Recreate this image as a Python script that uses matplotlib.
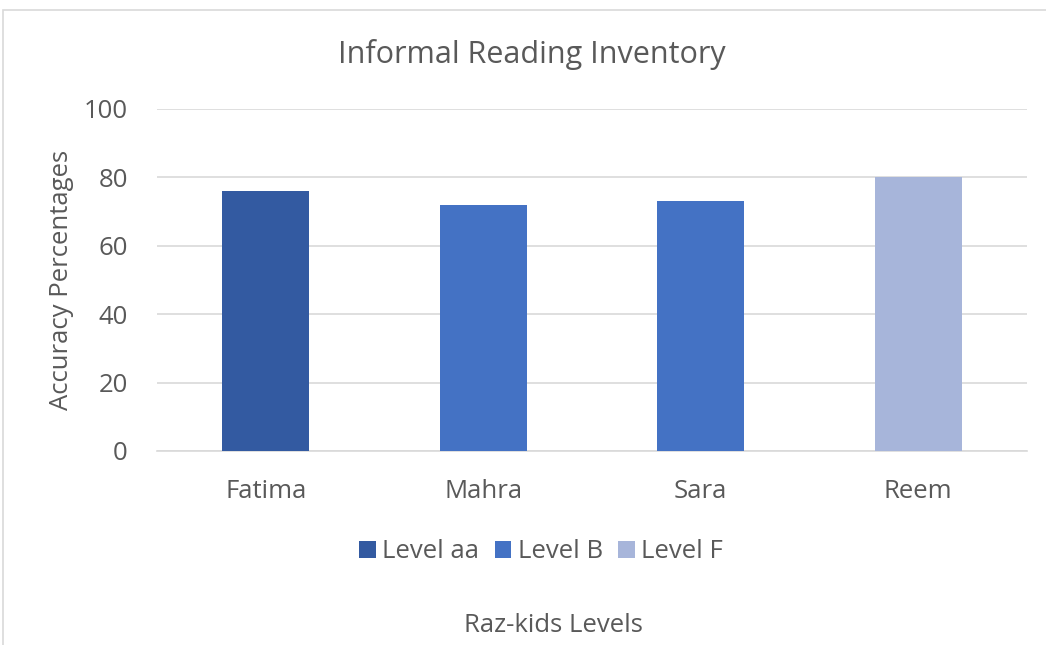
import matplotlib.pyplot as plt
from matplotlib.patches import Rectangle

students = ['Fatima', 'Mahra', 'Sara', 'Reem']
levels = ['Level aa', 'Level B', 'Level B', 'Level F']
accuracy = [76, 72, 73, 80]
series = ['Level aa', 'Level B', 'Level F']
series_colors = ['#335AA1', '#4472C4', '#A7B5DA']

plt.rcParams['font.family'] = ['Open Sans', 'DejaVu Sans']
text_col = '#595959'
fs = 18.5

fig = plt.figure(figsize=(10.46, 6.45), dpi=100)
ax = fig.add_axes([157 / 1046, 1 - 451 / 645, 870 / 1046, 342 / 645])

# chart frame (cropped at right/bottom)
fig.patches.append(Rectangle((3 / 1046, -0.1), 1.2, 1 - 10 / 645 + 0.1,
                             transform=fig.transFigure, fill=False,
                             edgecolor='#D9D9D9', linewidth=1.2))

for name, col in zip(series, series_colors):
    xs = [i for i, l in enumerate(levels) if l == name]
    ys = [accuracy[i] for i in xs]
    ax.bar(xs, ys, width=0.40, color=col, label=name, zorder=3)

ax.set_xlim(-0.5, len(students) - 0.5)
ax.set_ylim(0, 100)
ax.set_yticks(range(0, 101, 20))
ax.set_xticks(range(len(students)))
ax.set_xticklabels(students)
ax.tick_params(axis='both', length=0, labelsize=fs, labelcolor=text_col)
ax.tick_params(axis='x', pad=20)
ax.tick_params(axis='y', pad=21)
ax.grid(axis='y', color='#D9D9D9', linewidth=1.2, zorder=0)
for s in ['top', 'right', 'left']:
    ax.spines[s].set_visible(False)
ax.spines['bottom'].set_color('#D9D9D9')
ax.spines['bottom'].set_linewidth(1.2)

fig.text(62 / 1046, 1 - 280 / 645, 'Accuracy Percentages', fontsize=fs,
         color=text_col, ha='center', va='center', rotation=90)
fig.text(532 / 1046, 1 - 55 / 645, 'Informal Reading Inventory', fontsize=22,
         color=text_col, ha='center', va='center')
fig.text(553 / 1046, 1 - 625 / 645, 'Raz-kids Levels', fontsize=fs,
         color=text_col, ha='center', va='center')

ax.legend(loc='center', bbox_to_anchor=(541 / 1046, 1 - 552 / 645),
          bbox_transform=fig.transFigure, ncol=3, frameon=False,
          fontsize=fs, labelcolor=text_col, handlelength=0.65,
          handleheight=0.65, handletextpad=0.25, columnspacing=0.6)

fig.savefig('out.png', dpi=100)
